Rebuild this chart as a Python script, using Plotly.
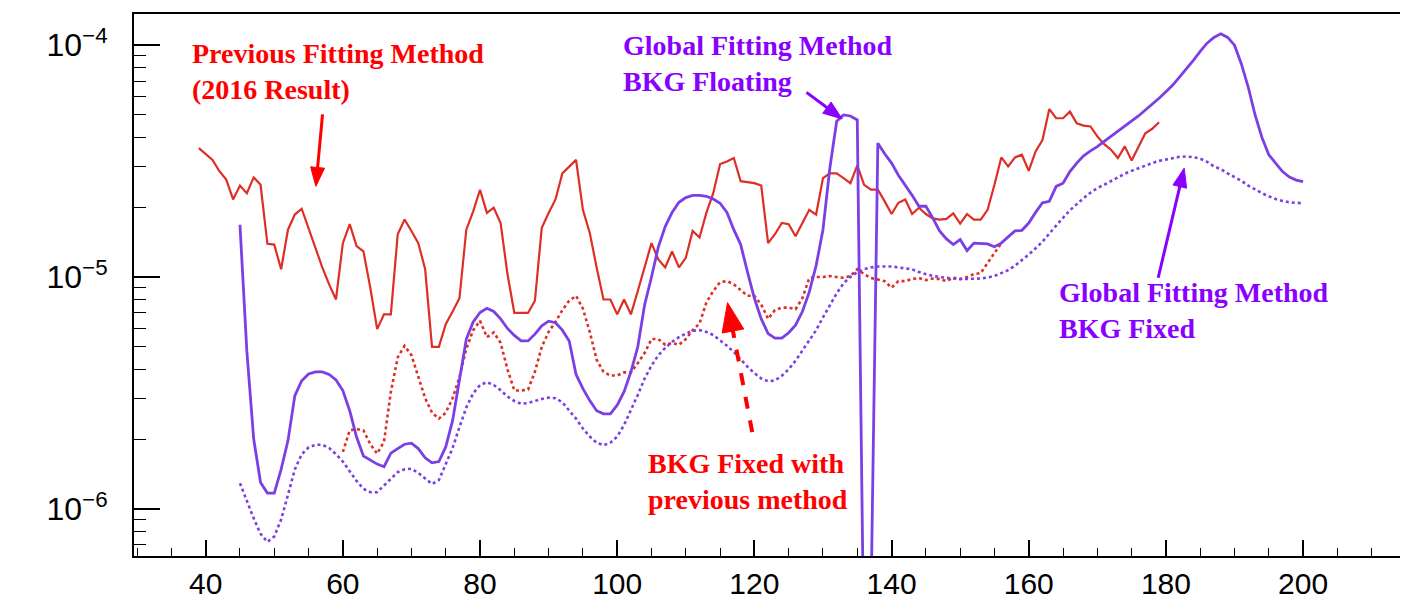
import plotly.graph_objects as go
import math

# ---------------- data ----------------
prev_x = list(range(39, 180))
prev_y = [
    3.6e-5,                                                      # 39
    3.4e-5, 3.2e-5, 2.86e-5, 2.63e-5, 2.16e-5, 2.48e-5, 2.30e-5, 2.69e-5, 2.50e-5, 1.39e-5,  # 40-49
    1.38e-5, 1.08e-5, 1.60e-5, 1.86e-5, 1.97e-5, 1.63e-5, 1.32e-5, 1.10e-5, 9.3e-6, 8.0e-6,  # 50-59
    1.40e-5, 1.69e-5, 1.36e-5, 1.29e-5, 9.0e-6, 5.96e-6, 6.9e-6, 6.9e-6, 1.53e-5, 1.77e-5,   # 60-69
    1.58e-5, 1.40e-5, 1.08e-5, 5.0e-6, 5.0e-6, 6.26e-6, 7.1e-6, 8.1e-6, 1.6e-5, 1.92e-5,     # 70-79
    2.38e-5, 1.89e-5, 1.99e-5, 1.71e-5, 1.03e-5, 7.0e-6, 7.0e-6, 7.0e-6, 7.9e-6, 1.63e-5,    # 80-89
    1.89e-5, 2.16e-5, 2.8e-5, 3.0e-5, 3.2e-5, 1.95e-5, 1.55e-5, 1.1e-5, 8.0e-6, 8.0e-6,      # 90-99
    6.9e-6, 8.0e-6, 6.9e-6, 8.7e-6, 1.1e-5, 1.40e-5, 1.19e-5, 1.10e-5, 1.29e-5, 1.10e-5,     # 100-109
    1.21e-5, 1.58e-5, 1.48e-5, 1.89e-5, 2.30e-5, 3.07e-5, 3.15e-5, 3.26e-5, 2.59e-5, 2.56e-5, # 110-119
    2.54e-5, 2.48e-5, 1.40e-5, 1.53e-5, 1.71e-5, 1.69e-5, 1.5e-5, 1.71e-5, 1.95e-5, 1.86e-5,  # 120-129
    2.67e-5, 2.8e-5, 2.8e-5, 2.67e-5, 2.54e-5, 3.03e-5, 2.5e-5, 2.38e-5, 2.38e-5, 2.12e-5,   # 130-139
    1.87e-5, 2.09e-5, 2.16e-5, 1.87e-5, 1.99e-5, 1.87e-5, 1.79e-5, 1.77e-5, 1.78e-5, 1.88e-5, # 140-149
    1.70e-5, 1.87e-5, 1.77e-5, 1.77e-5, 1.95e-5, 2.5e-5, 3.28e-5, 3.0e-5, 3.28e-5, 3.37e-5,  # 150-159
    2.87e-5, 3.48e-5, 3.9e-5, 5.3e-5, 4.84e-5, 4.84e-5, 5.17e-5, 4.6e-5, 4.5e-5, 4.46e-5,    # 160-169
    4.04e-5, 3.74e-5, 3.54e-5, 3.26e-5, 3.66e-5, 3.18e-5, 3.66e-5, 4.17e-5, 4.36e-5, 4.65e-5, # 170-179
]

bkgprev_x = list(range(60, 157))
bkgprev_y = [
    1.76e-6, 2.18e-6, 2.21e-6, 2.18e-6, 1.9e-6, 1.73e-6, 1.95e-6, 3.2e-6, 4.5e-6, 5.05e-6,    # 60-69
    4.6e-6, 3.7e-6, 3.0e-6, 2.6e-6, 2.45e-6, 2.6e-6, 3.0e-6, 3.7e-6, 4.9e-6, 5.9e-6,         # 70-79
    6.47e-6, 5.5e-6, 5.77e-6, 5.2e-6, 4.0e-6, 3.24e-6, 3.24e-6, 3.27e-6, 3.9e-6, 5.0e-6,     # 80-89
    5.8e-6, 6.4e-6, 7.2e-6, 7.9e-6, 8.3e-6, 7.3e-6, 5.8e-6, 4.4e-6, 3.9e-6, 3.76e-6,         # 90-99
    3.76e-6, 3.88e-6, 3.88e-6, 4.25e-6, 4.7e-6, 5.4e-6, 5.4e-6, 5.1e-6, 5.2e-6, 5.1e-6,      # 100-109
    5.4e-6, 5.9e-6, 6.3e-6, 7.76e-6, 8.7e-6, 9.5e-6, 9.6e-6, 9.3e-6, 8.8e-6, 8.3e-6,         # 110-119
    8.3e-6, 7.6e-6, 6.6e-6, 7.2e-6, 7.38e-6, 7.38e-6, 7.26e-6, 8.1e-6, 9.9e-6, 1.0e-5,       # 120-129
    1.0e-5, 1.01e-5, 1.0e-5, 9.93e-6, 1.01e-5, 1.08e-5, 1.03e-5, 9.9e-6, 9.75e-6, 9.6e-6,    # 130-139
    9.0e-6, 9.6e-6, 9.6e-6, 9.8e-6, 9.9e-6, 9.7e-6, 9.85e-6, 9.8e-6, 9.6e-6, 9.93e-6,        # 140-149
    9.8e-6, 1.0e-5, 1.03e-5, 1.04e-5, 1.15e-5, 1.27e-5, 1.4e-5,                             # 150-156
]

float_x = list(range(45, 201))
float_y = [
    1.68e-5, 4.8e-6, 2.0e-6, 1.3e-6, 1.17e-6,                                                # 45-49
    1.17e-6, 1.48e-6, 1.97e-6, 3.08e-6, 3.57e-6, 3.82e-6, 3.9e-6, 3.9e-6, 3.8e-6, 3.6e-6,    # 50-59
    3.24e-6, 2.65e-6, 2.04e-6, 1.69e-6, 1.62e-6, 1.56e-6, 1.52e-6, 1.74e-6, 1.82e-6, 1.9e-6, # 60-69
    1.92e-6, 1.82e-6, 1.66e-6, 1.58e-6, 1.6e-6, 1.85e-6, 2.4e-6, 3.6e-6, 5.4e-6, 6.4e-6,     # 70-79
    7.03e-6, 7.33e-6, 7.1e-6, 6.6e-6, 6.0e-6, 5.6e-6, 5.3e-6, 5.3e-6, 5.67e-6, 6.16e-6,     # 80-89
    6.45e-6, 6.35e-6, 5.9e-6, 5.3e-6, 3.8e-6, 3.3e-6, 2.93e-6, 2.65e-6, 2.57e-6, 2.57e-6,   # 90-99
    2.8e-6, 3.2e-6, 3.9e-6, 5.0e-6, 7.6e-6, 1.0e-5, 1.35e-5, 1.65e-5, 1.9e-5, 2.1e-5,       # 100-109
    2.2e-5, 2.25e-5, 2.25e-5, 2.23e-5, 2.17e-5, 2.08e-5, 1.9e-5, 1.6e-5, 1.38e-5, 1.05e-5,  # 110-119
    8.1e-6, 6.6e-6, 5.7e-6, 5.45e-6, 5.45e-6, 5.75e-6, 6.2e-6, 7.1e-6, 8.6e-6, 1.12e-5,     # 120-129
    1.6e-5, 2.95e-5, 4.7e-5, 5.0e-5, 4.95e-5, 4.76e-5, 2e-7, 4e-7, 3.78e-5, 3.4e-5,         # 130-139
    3.1e-5, 2.75e-5, 2.5e-5, 2.25e-5, 2.02e-5, 2.02e-5, 1.8e-5, 1.58e-5, 1.46e-5, 1.38e-5,  # 140-149
    1.45e-5, 1.30e-5, 1.40e-5, 1.39e-5, 1.39e-5, 1.35e-5, 1.40e-5, 1.49e-5, 1.58e-5, 1.59e-5, # 150-159
    1.71e-5, 1.9e-5, 2.09e-5, 2.12e-5, 2.46e-5, 2.54e-5, 2.85e-5, 3.1e-5, 3.33e-5, 3.5e-5,  # 160-169
    3.65e-5, 3.85e-5, 4.05e-5, 4.25e-5, 4.47e-5, 4.7e-5, 4.95e-5, 5.25e-5, 5.55e-5, 5.9e-5, # 170-179
    6.3e-5, 6.73e-5, 7.3e-5, 7.9e-5, 8.6e-5, 9.4e-5, 1.02e-4, 1.08e-4, 1.12e-4, 1.08e-4,    # 180-189
    1.0e-4, 8.3e-5, 6.6e-5, 5.0e-5, 4.0e-5, 3.37e-5, 3.1e-5, 2.85e-5, 2.7e-5, 2.62e-5, 2.58e-5,  # 190-200
]

fixed_x = list(range(45, 201))
fixed_y = [
    1.29e-6, 1.08e-6, 9.1e-7, 7.8e-7, 7.2e-7,                                                # 45-49
    7.6e-7, 9.0e-7, 1.15e-6, 1.48e-6, 1.72e-6, 1.84e-6, 1.89e-6, 1.89e-6, 1.83e-6, 1.72e-6,  # 50-59
    1.6e-6, 1.46e-6, 1.32e-6, 1.22e-6, 1.18e-6, 1.18e-6, 1.26e-6, 1.35e-6, 1.44e-6, 1.48e-6, # 60-69
    1.49e-6, 1.43e-6, 1.35e-6, 1.28e-6, 1.33e-6, 1.55e-6, 1.83e-6, 2.25e-6, 2.74e-6, 3.15e-6, # 70-79
    3.42e-6, 3.52e-6, 3.42e-6, 3.25e-6, 3.05e-6, 2.92e-6, 2.84e-6, 2.86e-6, 2.92e-6, 2.98e-6, # 80-89
    3.02e-6, 3.0e-6, 2.88e-6, 2.65e-6, 2.45e-6, 2.22e-6, 2.05e-6, 1.93e-6, 1.88e-6, 1.93e-6,  # 90-99
    2.05e-6, 2.3e-6, 2.65e-6, 3.1e-6, 3.65e-6, 4.15e-6, 4.6e-6, 4.95e-6, 5.25e-6, 5.5e-6,     # 100-109
    5.7e-6, 5.86e-6, 5.9e-6, 5.8e-6, 5.62e-6, 5.35e-6, 5.05e-6, 4.75e-6, 4.4e-6, 4.1e-6,      # 110-119
    3.85e-6, 3.65e-6, 3.55e-6, 3.58e-6, 3.75e-6, 4.0e-6, 4.35e-6, 4.8e-6, 5.3e-6, 5.9e-6,     # 120-129
    6.7e-6, 7.6e-6, 8.5e-6, 9.4e-6, 1.0e-5, 1.05e-5, 1.08e-5, 1.1e-5, 1.11e-5, 1.11e-5,      # 130-139
    1.11e-5, 1.1e-5, 1.09e-5, 1.08e-5, 1.05e-5, 1.03e-5, 1.01e-5, 1.0e-5, 9.9e-6, 9.85e-6,    # 140-149
    9.8e-6, 9.8e-6, 9.8e-6, 9.85e-6, 9.95e-6, 1.01e-5, 1.04e-5, 1.07e-5, 1.12e-5, 1.18e-5,    # 150-159
    1.25e-5, 1.33e-5, 1.42e-5, 1.54e-5, 1.67e-5, 1.8e-5, 1.94e-5, 2.07e-5, 2.19e-5, 2.31e-5,  # 160-169
    2.42e-5, 2.5e-5, 2.6e-5, 2.7e-5, 2.79e-5, 2.87e-5, 2.95e-5, 3.03e-5, 3.1e-5, 3.17e-5,     # 170-179
    3.22e-5, 3.26e-5, 3.3e-5, 3.31e-5, 3.29e-5, 3.24e-5, 3.14e-5, 3.0e-5, 2.92e-5, 2.8e-5,    # 180-189
    2.7e-5, 2.6e-5, 2.48e-5, 2.38e-5, 2.3e-5, 2.23e-5, 2.17e-5, 2.13e-5, 2.1e-5, 2.09e-5, 2.08e-5,  # 190-200
]

assert len(prev_x) == len(prev_y)
assert len(bkgprev_x) == len(bkgprev_y)
assert len(float_x) == len(float_y)
assert len(fixed_x) == len(fixed_y)

x_tickvals = [40, 60, 80, 100, 120, 140, 160, 180, 200]
y_tickvals = [1e-6, 1e-5, 1e-4]
y_ticktext = ["10<sup>\u22126</sup>", "10<sup>\u22125</sup>", "10<sup>\u22124</sup>"]
y_minor = [m * 10.0 ** e for e in (-7, -6, -5) for m in range(2, 10)] + [2e-4]

# ---------------- style ----------------
RED_LINE = "#DE2E26"
PURPLE_LINE = "#7B3FE6"
RED_TEXT = "#FF0000"
PURPLE_TEXT = "#8A00FF"

# The page body has an 8px default margin: the figure is drawn offset by it.
OFF = 8
SCR_W, SCR_H = 1408, 609
W, H = SCR_W - OFF, SCR_H - OFF
# plot area in screen pixels
X0, X1, Y0, Y1 = 134, 1403, 12, 556
ML, MR, MT, MB = X0 - OFF, W - (X1 - OFF), Y0 - OFF, H - (Y1 - OFF)
PW, PH = X1 - X0, Y1 - Y0


def P(px, py):
    """screen pixel -> paper coordinates"""
    return (px - X0) / PW, (Y1 - py) / PH


fig = go.Figure()
fig.add_trace(go.Scatter(x=prev_x, y=prev_y, mode="lines",
                         line=dict(color=RED_LINE, width=2.2), showlegend=False))
fig.add_trace(go.Scatter(x=bkgprev_x, y=bkgprev_y, mode="lines",
                         line=dict(color=RED_LINE, width=2.6, dash="dot"), showlegend=False))
fig.add_trace(go.Scatter(x=fixed_x, y=fixed_y, mode="lines",
                         line=dict(color=PURPLE_LINE, width=2.6, dash="dot"), showlegend=False))
fig.add_trace(go.Scatter(x=float_x, y=float_y, mode="lines",
                         line=dict(color=PURPLE_LINE, width=2.8), showlegend=False))

shapes = []
annotations = []


def arrow(tail, tip, color, head_len, head_w, width, dash="solid"):
    dx, dy = tip[0] - tail[0], tip[1] - tail[1]
    L = math.hypot(dx, dy)
    ux, uy = dx / L, dy / L
    nx, ny = -uy, ux
    bx, by = tip[0] - ux * head_len, tip[1] - uy * head_len
    ex, ey = bx + ux * 2, by + uy * 2
    a = P(*tail)
    b = P(ex, ey)
    shapes.append(dict(type="line", xref="paper", yref="paper",
                       x0=a[0], y0=a[1], x1=b[0], y1=b[1],
                       line=dict(color=color, width=width, dash=dash)))
    t = P(*tip)
    l = P(bx + nx * head_w / 2, by + ny * head_w / 2)
    r = P(bx - nx * head_w / 2, by - ny * head_w / 2)
    path = f"M {t[0]} {t[1]} L {l[0]} {l[1]} L {r[0]} {r[1]} Z"
    shapes.append(dict(type="path", xref="paper", yref="paper", path=path,
                       fillcolor=color, line=dict(color=color, width=1)))


arrow((322.7, 112.7), (316, 185), RED_TEXT, 19, 14, 3)
arrow((807, 90.7), (842.7, 117.3), PURPLE_TEXT, 19, 14, 3)
arrow((752.7, 431.7), (728, 301.7), RED_TEXT, 29, 22, 4, dash="dash")
arrow((1159, 276.7), (1185, 166.7), PURPLE_TEXT, 19, 14, 3)

TXT_FONT = "Liberation Serif"


def label(text, px, py, color):
    x, y = P(px, py)
    annotations.append(dict(text=text, x=x, y=y, xref="paper", yref="paper",
                            xanchor="left", yanchor="top", align="left", showarrow=False,
                            font=dict(family=TXT_FONT, size=28, color=color)))


label("<b>Previous Fitting Method</b><br><b>(2016 Result)</b>", 190, 34, RED_TEXT)
label("<b>Global Fitting Method</b><br><b>BKG Floating</b>", 621, 26, PURPLE_TEXT)
label("<b>Global Fitting Method</b><br><b>BKG Fixed</b>", 1058, 274, PURPLE_TEXT)
label("<b>BKG Fixed with</b><br><b>previous method</b>", 646, 446, RED_TEXT)

fig.update_layout(
    width=W, height=H,
    margin=dict(l=ML, r=MR, t=MT, b=MB, pad=0),
    paper_bgcolor="white", plot_bgcolor="white",
    shapes=shapes, annotations=annotations,
    font=dict(family="Liberation Sans", size=29, color="black"),
    xaxis=dict(
        range=[29.55, 214.42], showgrid=False, zeroline=False,
        showline=True, linecolor="black", linewidth=2, mirror=True,
        ticks="inside", ticklen=16, tickwidth=1.5, tickcolor="black",
        tickmode="array", tickvals=x_tickvals,
        tickfont=dict(family="Liberation Sans", size=30, color="black"),
        minor=dict(ticks="inside", ticklen=8, tickwidth=1.2, tickcolor="black",
                   tick0=0, dtick=5, showgrid=False),
    ),
    yaxis=dict(
        type="log", range=[-6.2033, -3.8655], showgrid=False, zeroline=False,
        showline=True, linecolor="black", linewidth=2, mirror=True,
        ticks="inside", ticklen=26, tickwidth=1.5, tickcolor="black",
        tickmode="array", tickvals=y_tickvals, ticktext=y_ticktext,
        ticklabelstandoff=18,
        tickfont=dict(family="Liberation Sans", size=32, color="black"),
        minor=dict(ticks="inside", ticklen=12, tickwidth=1.2, tickcolor="black",
                   tickmode="array", tickvals=y_minor, showgrid=False),
    ),
)

fig.write_html("out.html")
